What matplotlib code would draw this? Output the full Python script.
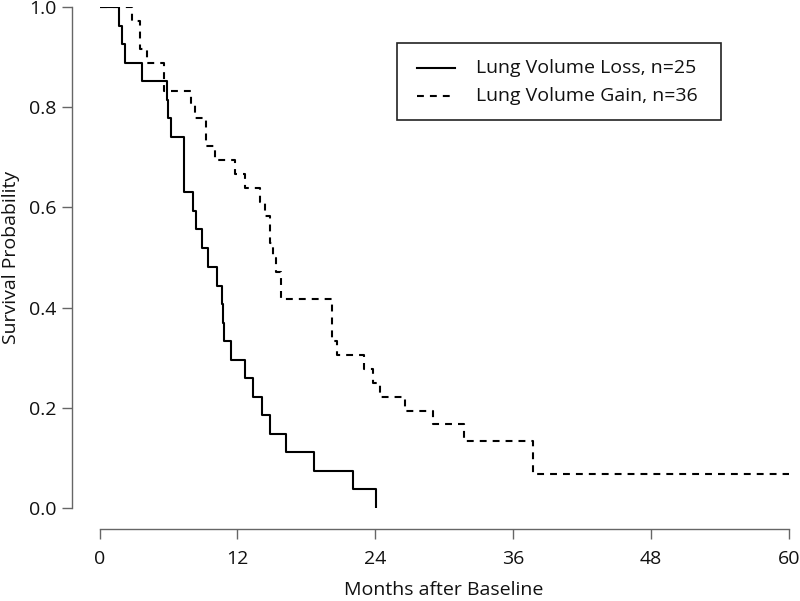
import matplotlib
matplotlib.use("Agg")
from matplotlib import pyplot as plt
from matplotlib.patches import Rectangle

plt.rcParams['font.family'] = ['Open Sans', 'DejaVu Sans']

# Kaplan-Meier steps (months, survival)
loss_t = [0, 1.7, 2.0, 2.2, 3.7, 5.9, 6.0, 6.2, 7.36, 8.17, 8.41, 8.95, 9.43,
          10.2, 10.64, 10.75, 10.85, 11.45, 12.7, 13.4, 14.1, 14.8, 16.2,
          18.7, 22.05, 24.06]
loss_s = [1.0, 0.963, 0.926, 0.889, 0.852, 0.815, 0.778, 0.741, 0.630, 0.593,
          0.556, 0.519, 0.481, 0.444, 0.407, 0.370, 0.333, 0.296, 0.259,
          0.222, 0.185, 0.148, 0.111, 0.074, 0.037, 0.0]

gain_t = [0, 2.8, 3.5, 4.1, 5.6, 8.0, 8.3, 9.3, 10.06, 11.8, 12.7, 14.0, 14.4,
          14.85, 15.1, 15.4, 15.8, 20.2, 20.7, 23.0, 23.8, 24.4, 26.6, 29.0,
          31.7, 37.7, 60]
gain_s = [1.0, 0.972, 0.917, 0.889, 0.833, 0.806, 0.778, 0.722, 0.694, 0.667,
          0.639, 0.611, 0.583, 0.528, 0.500, 0.472, 0.417, 0.333, 0.306,
          0.278, 0.250, 0.222, 0.194, 0.167, 0.133, 0.067, 0.067]

labels = ["Lung Volume Loss, n=25", "Lung Volume Gain, n=36"]
xticks = [0, 12, 24, 36, 48, 60]
yticks = [0.0, 0.2, 0.4, 0.6, 0.8, 1.0]

W, H = 800, 601
FS = 14
fig = plt.figure(figsize=(8, 6.01), dpi=100)
ax = fig.add_axes([99.5 / W, (H - 508) / H, (789 - 99.5) / W, 501 / H])

dash = (0, (3.3, 2.9))
ax.step(loss_t, loss_s, where='post', color='black', lw=1.5)
ax.step(gain_t, gain_s, where='post', color='black', lw=1.5, linestyle=dash)

ax.set_xlim(0, 60)
ax.set_ylim(0, 1)
ax.set_xticks(xticks)
ax.set_xticklabels([str(x) for x in xticks])
ax.set_yticks(yticks)
ax.set_yticklabels(["%.1f" % y for y in yticks])

# R style detached axes
for s in ['top', 'right']:
    ax.spines[s].set_visible(False)
ax.spines['bottom'].set_position(('outward', 21 * 0.72))
ax.spines['left'].set_position(('outward', 27.5 * 0.72))
ax.spines['bottom'].set_bounds(0, 60)
ax.spines['left'].set_bounds(0, 1)
for s in ['bottom', 'left']:
    ax.spines[s].set_color('#666666')
    ax.spines[s].set_linewidth(1.0)
ax.tick_params(axis='both', colors='#666666', width=1.0, length=7,
               labelcolor='#111111', labelsize=FS)
ax.tick_params(axis='x', pad=8)
ax.tick_params(axis='y', pad=4)

fig.text(444 / W, 1 - 590 / H, "Months after Baseline", ha='center',
         va='center', fontsize=FS, color='#111111')
fig.text(11 / W, 1 - 257 / H, "Survival Probability", ha='center',
         va='center', rotation=90, fontsize=FS, color='#111111')

# legend box
ax.add_patch(Rectangle((0.431, 0.774), 0.471, 0.154, transform=ax.transAxes,
                       fill=False, edgecolor='#222222', lw=1.2, clip_on=False))
ax.plot([0.4605, 0.5155], [0.878, 0.878], transform=ax.transAxes,
        color='black', lw=1.5)
ax.plot([0.4605, 0.5155], [0.822, 0.822], transform=ax.transAxes,
        color='black', lw=1.5, linestyle=dash)
ax.text(0.546, 0.878, labels[0], transform=ax.transAxes, va='center',
        fontsize=FS, color='#111111')
ax.text(0.546, 0.822, labels[1], transform=ax.transAxes, va='center',
        fontsize=FS, color='#111111')

fig.savefig("out.png", dpi=100)
